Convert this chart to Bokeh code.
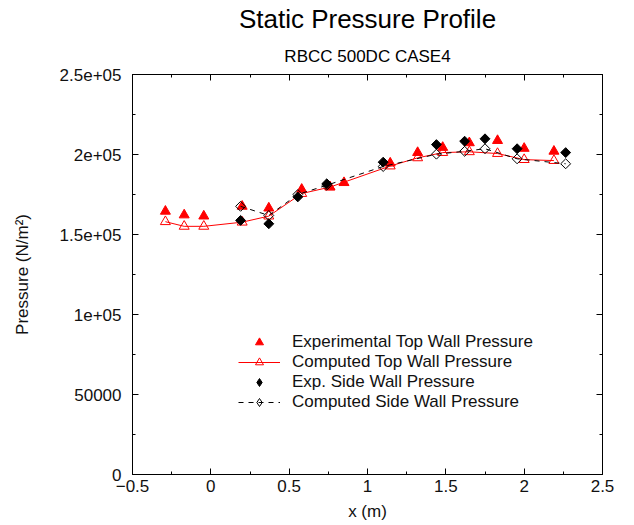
import numpy as np
from bokeh.plotting import figure
from bokeh.models import LinearAxis, FixedTicker, Legend, LegendItem, Title, Range1d
from bokeh.embed import file_html
from bokeh.resources import INLINE

FONT = "Liberation Sans"

# ---- tick labels ----
x_ticks = [-0.5, 0.0, 0.5, 1.0, 1.5, 2.0, 2.5]
x_tick_labels = ["\u22120.5", "0", "0.5", "1", "1.5", "2", "2.5"]
y_ticks = [0, 50000, 100000, 150000, 200000, 250000]
y_tick_labels = ["0", "50000", "1e+05", "1.5e+05", "2e+05", "2.5e+05"]

# ---- data ----
exp_top_x = [-0.29, -0.17, -0.045, 0.20, 0.37, 0.58, 0.76, 0.85, 1.145, 1.32, 1.48, 1.65, 1.83, 2.00, 2.19]
exp_top_p = [164500, 162200, 161500, 167600, 166500, 178200, 179800, 182400, 194600, 201200, 204400, 207300, 208700, 203800, 202000]

comp_top_x = [-0.29, -0.17, -0.045, 0.20, 0.37, 0.58, 0.76, 1.145, 1.32, 1.48, 1.65, 1.83, 2.00, 2.19]
comp_top_p = [158000, 155100, 155100, 157700, 161500, 175600, 179600, 192800, 197900, 201200, 201700, 200600, 196800, 196200]

exp_side_x = [0.19, 0.37, 0.555, 0.74, 1.10, 1.44, 1.62, 1.75, 1.955, 2.265]
exp_side_p = [158800, 156700, 173500, 181700, 195200, 206200, 208300, 209800, 203600, 201200]

comp_side_x = [0.19, 0.37, 0.555, 0.74, 1.10, 1.44, 1.62, 1.75, 1.955, 2.265]
comp_side_p = [167600, 161900, 175000, 180800, 192500, 200200, 202000, 203600, 197300, 194200]

x_minor = [(a + b) / 2 for a, b in zip(x_ticks[:-1], x_ticks[1:])]
y_minor = [(a + b) / 2 for a, b in zip(y_ticks[:-1], y_ticks[1:])]

p = figure(frame_width=470, frame_height=400,
           min_border_left=132, min_border_right=30,
           min_border_top=74, min_border_bottom=50,
           x_range=Range1d(x_ticks[0], x_ticks[-1]),
           y_range=Range1d(y_ticks[0], y_ticks[-1]),
           output_backend="svg", toolbar_location=None)
p.grid.visible = False
p.outline_line_color = "black"
p.background_fill_color = "white"
p.border_fill_color = "white"


def style(ax, ticks, minor, overrides, show):
    ax.ticker = FixedTicker(ticks=ticks, minor_ticks=minor)
    ax.axis_line_color = "black"
    ax.major_tick_line_color = "black"
    ax.minor_tick_line_color = "black"
    ax.major_tick_in = 6
    ax.major_tick_out = 0
    ax.minor_tick_in = 3
    ax.minor_tick_out = 0
    if show:
        ax.major_label_overrides = overrides
        ax.major_label_text_font = FONT
        ax.major_label_text_font_size = "17px"
        ax.major_label_text_color = "#111111"
        ax.axis_label_text_font = FONT
        ax.axis_label_text_font_size = "17px"
        ax.axis_label_text_font_style = "normal"
        ax.axis_label_text_color = "#111111"
    else:
        ax.major_label_text_font_size = "1px"
        ax.major_label_text_color = None
        ax.major_label_standoff = 0


xa = p.xaxis[0]
style(xa, x_ticks, x_minor, dict(zip(x_ticks, x_tick_labels)), True)
xa.axis_label = "x (m)"
xa.major_label_standoff = 5
xa.axis_label_standoff = 7

ya = p.yaxis[0]
style(ya, y_ticks, y_minor, dict(zip(y_ticks, y_tick_labels)), True)
ya.axis_label = "Pressure (N/m\u00b2)"
ya.major_label_standoff = 11
ya.axis_label_standoff = 25

top = LinearAxis()
style(top, x_ticks, x_minor, {}, False)
p.add_layout(top, "above")
right = LinearAxis()
style(right, y_ticks, y_minor, {}, False)
p.add_layout(right, "right")

p.add_layout(Title(text="RBCC 500DC CASE4", align="center", text_font=FONT,
                   text_font_size="17px", text_font_style="normal",
                   text_color="black", standoff=17, offset=3), "above")
p.add_layout(Title(text="Static Pressure Profile", align="center", text_font=FONT,
                   text_font_size="26px", text_font_style="normal",
                   vertical_align="top",
                   text_color="black", standoff=1, offset=2), "above")

# ---- glyphs (gnuplot order) ----
r_exp_top = p.scatter(exp_top_x, exp_top_p, marker="triangle", size=10,
                      fill_color="red", line_color="red", line_width=1)
r_comp_top_l = p.line(comp_top_x, comp_top_p, line_color="red", line_width=1)
r_comp_top_m = p.scatter(comp_top_x, comp_top_p, marker="triangle", size=10,
                         fill_alpha=0, line_color="red", line_width=1)
r_exp_side = p.scatter(exp_side_x, exp_side_p, marker="square", angle=np.pi / 4, size=7,
                       fill_color="black", line_color="black", line_width=1)
r_comp_side_l = p.line(comp_side_x, comp_side_p, line_color="black", line_width=1,
                       line_dash="5 5")
r_comp_side_m = p.scatter(comp_side_x, comp_side_p, marker="square", angle=np.pi / 4, size=7,
                          fill_alpha=0, line_color="black", line_width=1)

# legend-only diamond samples (not shown in the plot area)
leg_exp_side = p.scatter(exp_side_x, exp_side_p, marker="diamond", size=10,
                         fill_color="black", line_color="black", visible=False)
leg_comp_side = p.scatter(comp_side_x, comp_side_p, marker="diamond", size=10,
                          fill_alpha=0, line_color="black", visible=False)

legend = Legend(items=[
    LegendItem(label="Experimental Top Wall Pressure", renderers=[r_exp_top]),
    LegendItem(label="Computed Top Wall Pressure", renderers=[r_comp_top_l, r_comp_top_m]),
    LegendItem(label="Exp. Side Wall Pressure", renderers=[leg_exp_side]),
    LegendItem(label="Computed Side Wall Pressure", renderers=[r_comp_side_l, leg_comp_side]),
], location=(106, 62), orientation="vertical", glyph_width=42, glyph_height=20,
    label_height=20, label_standoff=12, padding=0, spacing=0, margin=0,
    border_line_alpha=0, background_fill_alpha=0,
    label_text_font=FONT, label_text_font_size="17px", label_text_color="#111111")
p.add_layout(legend)

open("out.html", "w").write(file_html(p, INLINE))
